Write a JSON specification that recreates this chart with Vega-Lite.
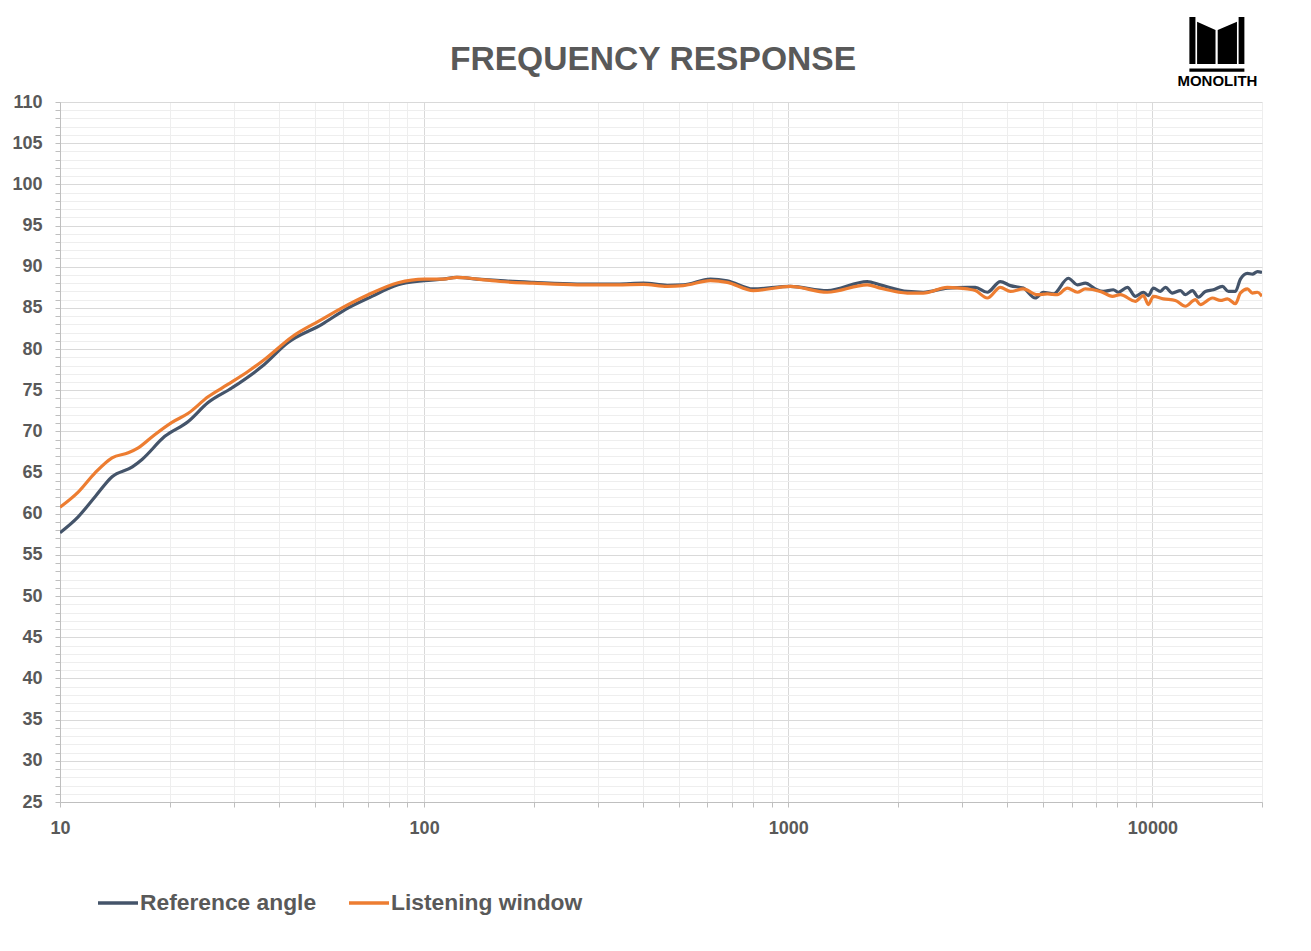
{
  "$schema": "https://vega.github.io/schema/vega-lite/v6.json",
  "width": 1202,
  "height": 700,
  "autosize": {"type": "none"},
  "padding": {"left": 60, "top": 102, "right": 49, "bottom": 149},
  "background": "white",
  "title": {
    "text": "FREQUENCY RESPONSE",
    "font": "Liberation Sans",
    "fontSize": 33.6,
    "fontWeight": "bold",
    "color": "#595959",
    "anchor": "middle",
    "frame": "group",
    "baseline": "alphabetic",
    "dx": -8,
    "offset": -87
  },
  "config": {
    "view": {"stroke": null},
    "font": "Liberation Sans"
  },
  "datasets": {
    "fr": [
      {"f": 10, "db": 57.7, "s": "Reference angle"},
      {"f": 11.2, "db": 59.6, "s": "Reference angle"},
      {"f": 12.5, "db": 62.1, "s": "Reference angle"},
      {"f": 13.9, "db": 64.5, "s": "Reference angle"},
      {"f": 15.8, "db": 65.7, "s": "Reference angle"},
      {"f": 16.8, "db": 66.6, "s": "Reference angle"},
      {"f": 19.4, "db": 69.4, "s": "Reference angle"},
      {"f": 22.5, "db": 71.2, "s": "Reference angle"},
      {"f": 25.5, "db": 73.5, "s": "Reference angle"},
      {"f": 29.7, "db": 75.3, "s": "Reference angle"},
      {"f": 35.9, "db": 77.9, "s": "Reference angle"},
      {"f": 42.3, "db": 80.8, "s": "Reference angle"},
      {"f": 52.4, "db": 83.0, "s": "Reference angle"},
      {"f": 60.7, "db": 84.8, "s": "Reference angle"},
      {"f": 71.9, "db": 86.4, "s": "Reference angle"},
      {"f": 84.8, "db": 87.8, "s": "Reference angle"},
      {"f": 100, "db": 88.3, "s": "Reference angle"},
      {"f": 112.7, "db": 88.5, "s": "Reference angle"},
      {"f": 123, "db": 88.7, "s": "Reference angle"},
      {"f": 140, "db": 88.5, "s": "Reference angle"},
      {"f": 162, "db": 88.3, "s": "Reference angle"},
      {"f": 199, "db": 88.1, "s": "Reference angle"},
      {"f": 263, "db": 87.9, "s": "Reference angle"},
      {"f": 339, "db": 87.9, "s": "Reference angle"},
      {"f": 400, "db": 88.0, "s": "Reference angle"},
      {"f": 465, "db": 87.75, "s": "Reference angle"},
      {"f": 515, "db": 87.8, "s": "Reference angle"},
      {"f": 611, "db": 88.5, "s": "Reference angle"},
      {"f": 680, "db": 88.3, "s": "Reference angle"},
      {"f": 801, "db": 87.3, "s": "Reference angle"},
      {"f": 1013, "db": 87.6, "s": "Reference angle"},
      {"f": 1280, "db": 87.1, "s": "Reference angle"},
      {"f": 1648, "db": 88.2, "s": "Reference angle"},
      {"f": 1789, "db": 87.8, "s": "Reference angle"},
      {"f": 2123, "db": 87.0, "s": "Reference angle"},
      {"f": 2349, "db": 86.9, "s": "Reference angle"},
      {"f": 2734, "db": 87.4, "s": "Reference angle"},
      {"f": 3103, "db": 87.5, "s": "Reference angle"},
      {"f": 3264, "db": 87.5, "s": "Reference angle"},
      {"f": 3521, "db": 86.9, "s": "Reference angle"},
      {"f": 3823, "db": 88.2, "s": "Reference angle"},
      {"f": 4073, "db": 87.7, "s": "Reference angle"},
      {"f": 4421, "db": 87.4, "s": "Reference angle"},
      {"f": 4770, "db": 86.2, "s": "Reference angle"},
      {"f": 5017, "db": 86.9, "s": "Reference angle"},
      {"f": 5346, "db": 86.7, "s": "Reference angle"},
      {"f": 5878, "db": 88.6, "s": "Reference angle"},
      {"f": 6223, "db": 87.8, "s": "Reference angle"},
      {"f": 6544, "db": 88.0, "s": "Reference angle"},
      {"f": 6972, "db": 87.3, "s": "Reference angle"},
      {"f": 7335, "db": 87.0, "s": "Reference angle"},
      {"f": 7814, "db": 87.2, "s": "Reference angle"},
      {"f": 8064, "db": 86.9, "s": "Reference angle"},
      {"f": 8538, "db": 87.5, "s": "Reference angle"},
      {"f": 8981, "db": 86.4, "s": "Reference angle"},
      {"f": 9447, "db": 86.9, "s": "Reference angle"},
      {"f": 9750, "db": 86.5, "s": "Reference angle"},
      {"f": 10063, "db": 87.4, "s": "Reference angle"},
      {"f": 10519, "db": 87.0, "s": "Reference angle"},
      {"f": 10857, "db": 87.5, "s": "Reference angle"},
      {"f": 11346, "db": 86.8, "s": "Reference angle"},
      {"f": 11937, "db": 87.1, "s": "Reference angle"},
      {"f": 12321, "db": 86.6, "s": "Reference angle"},
      {"f": 12880, "db": 87.1, "s": "Reference angle"},
      {"f": 13378, "db": 86.3, "s": "Reference angle"},
      {"f": 13982, "db": 87.0, "s": "Reference angle"},
      {"f": 14710, "db": 87.2, "s": "Reference angle"},
      {"f": 15571, "db": 87.6, "s": "Reference angle"},
      {"f": 16175, "db": 87.0, "s": "Reference angle"},
      {"f": 16904, "db": 87.0, "s": "Reference angle"},
      {"f": 17449, "db": 88.5, "s": "Reference angle"},
      {"f": 18239, "db": 89.2, "s": "Reference angle"},
      {"f": 18825, "db": 89.1, "s": "Reference angle"},
      {"f": 19429, "db": 89.4, "s": "Reference angle"},
      {"f": 20000, "db": 89.3, "s": "Reference angle"},
      {"f": 10, "db": 60.8, "s": "Listening window"},
      {"f": 11.2, "db": 62.6, "s": "Listening window"},
      {"f": 12.5, "db": 65.0, "s": "Listening window"},
      {"f": 13.9, "db": 66.8, "s": "Listening window"},
      {"f": 15.4, "db": 67.4, "s": "Listening window"},
      {"f": 16.4, "db": 68.0, "s": "Listening window"},
      {"f": 18.2, "db": 69.6, "s": "Listening window"},
      {"f": 20.3, "db": 71.1, "s": "Listening window"},
      {"f": 22.5, "db": 72.2, "s": "Listening window"},
      {"f": 25.5, "db": 74.2, "s": "Listening window"},
      {"f": 28.9, "db": 75.7, "s": "Listening window"},
      {"f": 32.9, "db": 77.3, "s": "Listening window"},
      {"f": 36.6, "db": 78.8, "s": "Listening window"},
      {"f": 43.4, "db": 81.5, "s": "Listening window"},
      {"f": 52.4, "db": 83.6, "s": "Listening window"},
      {"f": 59.5, "db": 85.0, "s": "Listening window"},
      {"f": 70.2, "db": 86.6, "s": "Listening window"},
      {"f": 84.8, "db": 88.05, "s": "Listening window"},
      {"f": 100, "db": 88.5, "s": "Listening window"},
      {"f": 112.7, "db": 88.5, "s": "Listening window"},
      {"f": 123, "db": 88.7, "s": "Listening window"},
      {"f": 140, "db": 88.5, "s": "Listening window"},
      {"f": 162, "db": 88.2, "s": "Listening window"},
      {"f": 199, "db": 88.0, "s": "Listening window"},
      {"f": 263, "db": 87.8, "s": "Listening window"},
      {"f": 339, "db": 87.8, "s": "Listening window"},
      {"f": 400, "db": 87.85, "s": "Listening window"},
      {"f": 465, "db": 87.6, "s": "Listening window"},
      {"f": 515, "db": 87.7, "s": "Listening window"},
      {"f": 611, "db": 88.3, "s": "Listening window"},
      {"f": 680, "db": 88.1, "s": "Listening window"},
      {"f": 801, "db": 87.1, "s": "Listening window"},
      {"f": 1013, "db": 87.6, "s": "Listening window"},
      {"f": 1280, "db": 86.9, "s": "Listening window"},
      {"f": 1648, "db": 87.8, "s": "Listening window"},
      {"f": 1789, "db": 87.4, "s": "Listening window"},
      {"f": 2123, "db": 86.8, "s": "Listening window"},
      {"f": 2349, "db": 86.8, "s": "Listening window"},
      {"f": 2734, "db": 87.5, "s": "Listening window"},
      {"f": 3103, "db": 87.3, "s": "Listening window"},
      {"f": 3264, "db": 87.1, "s": "Listening window"},
      {"f": 3521, "db": 86.2, "s": "Listening window"},
      {"f": 3823, "db": 87.5, "s": "Listening window"},
      {"f": 4073, "db": 87.0, "s": "Listening window"},
      {"f": 4421, "db": 87.3, "s": "Listening window"},
      {"f": 4831, "db": 86.6, "s": "Listening window"},
      {"f": 5147, "db": 86.7, "s": "Listening window"},
      {"f": 5483, "db": 86.6, "s": "Listening window"},
      {"f": 5841, "db": 87.4, "s": "Listening window"},
      {"f": 6223, "db": 86.9, "s": "Listening window"},
      {"f": 6544, "db": 87.3, "s": "Listening window"},
      {"f": 7196, "db": 87.0, "s": "Listening window"},
      {"f": 7766, "db": 86.4, "s": "Listening window"},
      {"f": 8168, "db": 86.6, "s": "Listening window"},
      {"f": 8981, "db": 85.8, "s": "Listening window"},
      {"f": 9447, "db": 86.5, "s": "Listening window"},
      {"f": 9750, "db": 85.4, "s": "Listening window"},
      {"f": 10063, "db": 86.4, "s": "Listening window"},
      {"f": 10720, "db": 86.1, "s": "Listening window"},
      {"f": 11567, "db": 85.9, "s": "Listening window"},
      {"f": 12321, "db": 85.2, "s": "Listening window"},
      {"f": 13130, "db": 86.0, "s": "Listening window"},
      {"f": 13545, "db": 85.4, "s": "Listening window"},
      {"f": 14616, "db": 86.2, "s": "Listening window"},
      {"f": 15376, "db": 85.9, "s": "Listening window"},
      {"f": 16072, "db": 86.1, "s": "Listening window"},
      {"f": 16904, "db": 85.5, "s": "Listening window"},
      {"f": 17449, "db": 86.8, "s": "Listening window"},
      {"f": 18239, "db": 87.3, "s": "Listening window"},
      {"f": 18825, "db": 86.8, "s": "Listening window"},
      {"f": 19429, "db": 86.9, "s": "Listening window"},
      {"f": 20000, "db": 86.4, "s": "Listening window"}
    ],
    "logo": [{"name": "MONOLITH"}]
  },
  "layer": [
    {
      "data": {"name": "fr"},
      "mark": {"type": "line", "strokeWidth": 3.2, "interpolate": "monotone", "clip": true},
      "encoding": {
        "x": {
          "field": "f",
          "type": "quantitative",
          "scale": {"type": "log", "domain": [10, 20000], "nice": false},
          "axis": {
            "title": null,
            "values": [10, 20, 30, 40, 50, 60, 70, 80, 90, 100, 200, 300, 400, 500, 600, 700, 800, 900, 1000, 2000, 3000, 4000, 5000, 6000, 7000, 8000, 9000, 10000, 20000],
            "tickCount": 200,
            "labelExpr": "(datum.value == 10 || datum.value == 100 || datum.value == 1000 || datum.value == 10000) ? format(datum.value, 'd') : ''",
            "labelOverlap": false,
            "labelFlush": false,
            "labelFont": "Liberation Sans",
            "labelFontWeight": "bold",
            "labelFontSize": 18,
            "labelColor": "#595959",
            "labelPadding": 12,
            "tickSize": 5,
            "tickColor": "#bfbfbf",
            "domainColor": "#bfbfbf",
            "grid": true,
            "gridColor": {"condition": {"test": "datum.value == 10 || datum.value == 100 || datum.value == 1000 || datum.value == 10000", "value": "#d9d9d9"}, "value": "#eeeeee"},
            "gridWidth": 1
          }
        },
        "y": {
          "field": "db",
          "type": "quantitative",
          "scale": {"domain": [25, 110], "nice": false, "zero": false},
          "axis": {
            "title": null,
            "values": [25,26,27,28,29,30,31,32,33,34,35,36,37,38,39,40,41,42,43,44,45,46,47,48,49,50,51,52,53,54,55,56,57,58,59,60,61,62,63,64,65,66,67,68,69,70,71,72,73,74,75,76,77,78,79,80,81,82,83,84,85,86,87,88,89,90,91,92,93,94,95,96,97,98,99,100,101,102,103,104,105,106,107,108,109,110],
            "tickCount": 200,
            "labelExpr": "datum.value % 5 == 0 ? format(datum.value, 'd') : ''",
            "labelOverlap": false,
            "labelFlush": false,
            "labelFont": "Liberation Sans",
            "labelFontWeight": "bold",
            "labelFontSize": 18,
            "labelColor": "#595959",
            "labelPadding": 13,
            "tickSize": 5,
            "tickColor": "#bfbfbf",
            "domainColor": "#bfbfbf",
            "grid": true,
            "gridColor": {"condition": {"test": "datum.value % 5 == 0", "value": "#d9d9d9"}, "value": "#eeeeee"},
            "gridWidth": 1
          }
        },
        "color": {
          "field": "s",
          "type": "nominal",
          "scale": {"domain": ["Reference angle", "Listening window"], "range": ["#44546A", "#ED7D31"]},
          "legend": {
            "title": null,
            "orient": "none",
            "legendX": 36,
            "legendY": 779,
            "direction": "horizontal",
            "symbolType": "stroke",
            "symbolSize": 1600,
            "symbolStrokeWidth": 3.5,
            "labelFont": "Liberation Sans",
            "labelFontWeight": "bold",
            "labelFontSize": 22.8,
            "labelColor": "#595959",
            "labelOffset": 0,
            "columnPadding": 25,
            "labelLimit": 400
          }
        }
      }
    },
    {
      "data": {"name": "logo"},
      "mark": {"type": "point", "shape": "M-1,-1L-0.78,-1L-0.78,0.71L-1,0.71Z M-0.72,-0.83L-0.05,-0.53L-0.05,0.71L-0.72,0.71Z M0.03,-0.53L0.73,-0.83L0.73,0.71L0.03,0.71Z M0.79,-1L1,-1L1,0.71L0.79,0.71Z M-1,0.87L1,0.87L1,0.99L-1,0.99Z", "filled": true, "color": "#000000", "opacity": 1, "size": 3025, "strokeWidth": 0},
      "encoding": {
        "x": {"datum": 15036, "type": "quantitative"},
        "y": {"datum": 116.98, "type": "quantitative"}
      }
    },
    {
      "data": {"name": "logo"},
      "mark": {"type": "text", "font": "Liberation Sans", "fontWeight": "bold", "fontSize": 15, "color": "#000000", "align": "center", "baseline": "alphabetic"},
      "encoding": {
        "x": {"datum": 15087, "type": "quantitative"},
        "y": {"datum": 111.94, "type": "quantitative"},
        "text": {"field": "name"}
      }
    }
  ]
}
